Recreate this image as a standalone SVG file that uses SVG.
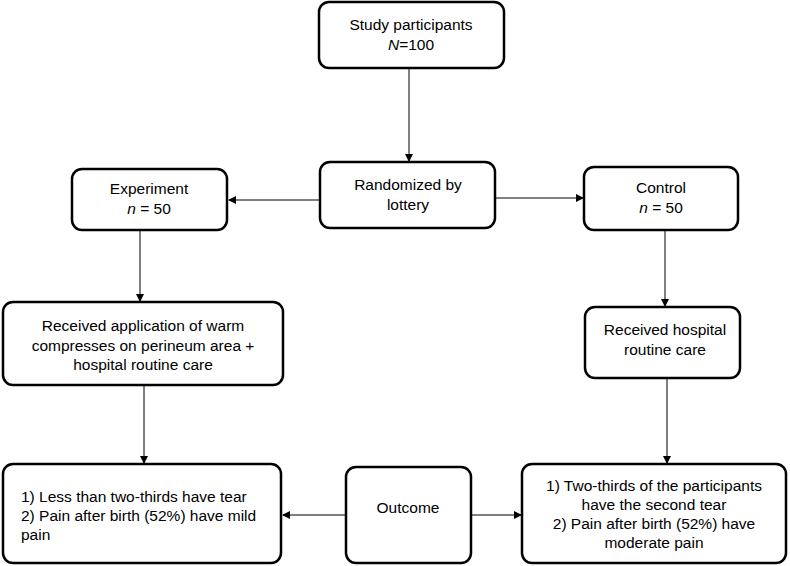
<svg xmlns="http://www.w3.org/2000/svg" width="790" height="566" viewBox="0 0 790 566">
<style>
rect{fill:#fff;stroke:#000;stroke-width:2.5}
text{font-family:"Liberation Sans",Arial,sans-serif;font-size:15.5px;fill:#000;text-anchor:middle}
.l{text-anchor:start}
line{stroke:#000;stroke-width:1}
</style>
<defs><marker id="a" markerWidth="8" markerHeight="8" refX="7" refY="4" orient="auto" markerUnits="userSpaceOnUse"><path d="M0,0L8,4L0,8z"/></marker></defs>
<g id="connectors">
<line x1="409" y1="68" x2="409" y2="161" marker-end="url(#a)"/>
<line x1="320" y1="200" x2="229" y2="200" marker-end="url(#a)"/>
<line x1="495" y1="198" x2="583" y2="198" marker-end="url(#a)"/>
<line x1="140" y1="231" x2="140" y2="301" marker-end="url(#a)"/>
<line x1="665" y1="231" x2="665" y2="306" marker-end="url(#a)"/>
<line x1="144" y1="386" x2="144" y2="463" marker-end="url(#a)"/>
<line x1="667" y1="379" x2="667" y2="463" marker-end="url(#a)"/>
<line x1="345" y1="515" x2="283" y2="515" marker-end="url(#a)"/>
<line x1="471" y1="515" x2="521" y2="515" marker-end="url(#a)"/>
</g>
<g id="study"><rect x="319" y="2" width="185" height="66" rx="10"/><text x="411" y="30">Study participants</text><text x="411" y="50"><tspan font-style="italic">N</tspan>=100</text></g>
<g id="random"><rect x="320" y="162" width="175" height="66" rx="10"/><text x="408" y="190">Randomized by</text><text x="408" y="210">lottery</text></g>
<g id="experiment"><rect x="72" y="169" width="155" height="61" rx="10"/><text x="149" y="194">Experiment</text><text x="149" y="214"><tspan font-style="italic">n</tspan> = 50</text></g>
<g id="control"><rect x="584" y="167" width="154" height="63" rx="10"/><text x="661" y="193">Control</text><text x="661" y="213"><tspan font-style="italic">n</tspan> = 50</text></g>
<g id="warm"><rect x="3" y="302" width="280" height="83" rx="10"/><text x="143" y="331">Received application of warm</text><text x="143" y="351">compresses on perineum area +</text><text x="143" y="370">hospital routine care</text></g>
<g id="hospital"><rect x="585" y="307" width="155" height="71" rx="10"/><text x="665" y="335">Received hospital</text><text x="665" y="355">routine care</text></g>
<g id="outLeft"><rect x="3" y="464" width="278" height="99" rx="10"/><text class="l" x="21" y="502">1) Less than two-thirds have tear</text><text class="l" x="21" y="521">2) Pain after birth (52%) have mild</text><text class="l" x="21" y="540">pain</text></g>
<g id="outcome"><rect x="346" y="467" width="125" height="96" rx="10"/><text x="408" y="513">Outcome</text></g>
<g id="outRight"><rect x="522" y="464" width="264" height="99" rx="10"/><text x="654" y="491">1) Two-thirds of the participants</text><text x="654" y="510">have the second tear</text><text x="654" y="529">2) Pain after birth (52%) have</text><text x="654" y="548">moderate pain</text></g>
</svg>
